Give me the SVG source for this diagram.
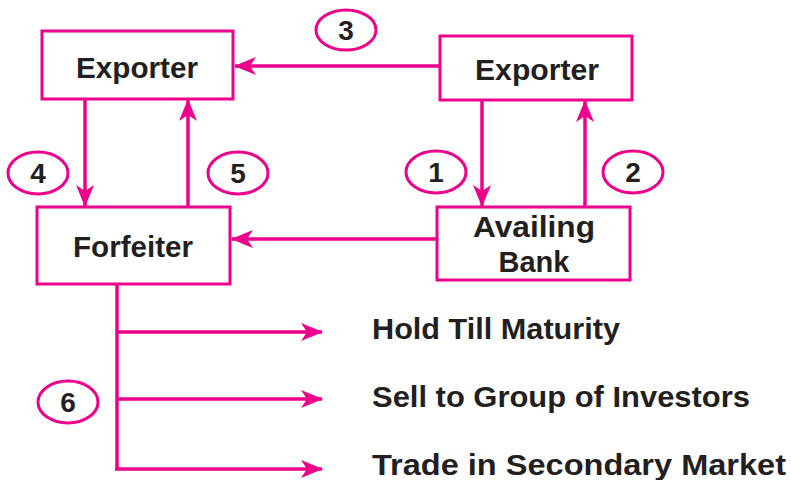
<svg xmlns="http://www.w3.org/2000/svg" width="791" height="480" viewBox="0 0 791 480">
<defs>
<marker id="ah" viewBox="0 0 22 18" refX="21" refY="9" markerWidth="22" markerHeight="18" markerUnits="userSpaceOnUse" orient="auto">
<path d="M0,0 L22,9 L0,18 L6,9 Z" fill="#EC008C"/>
</marker>
</defs>
<style>
.box{fill:#fff;stroke:#EC008C;stroke-width:3}
.ell{fill:#fff;stroke:#EC008C;stroke-width:3}
.ln{fill:none;stroke:#EC008C;stroke-width:3.5}
.arr{fill:none;stroke:#EC008C;stroke-width:3.5;marker-end:url(#ah)}
.t{font-family:"Liberation Sans",Arial,sans-serif;font-weight:bold;fill:#231F20;text-anchor:middle}
.lb{font-size:29px}
.num{font-size:28px}
.out{font-family:"Liberation Sans",Arial,sans-serif;font-weight:bold;fill:#231F20;font-size:29px}
</style>
<g id="connectors">
<path class="arr" d="M440,66 L235,66"/>
<path class="arr" d="M482,100 L482,206"/>
<path class="arr" d="M585,207 L585,101"/>
<path class="arr" d="M85,99 L85,206"/>
<path class="arr" d="M188,207 L188,100"/>
<path class="arr" d="M437,239 L232,239"/>
<path class="ln" d="M117,284 L117,469"/>
<path class="arr" d="M117,332 L322,332"/>
<path class="arr" d="M117,399 L322,399"/>
<path class="arr" d="M115,469 L322,469"/>
</g>
<g id="exporter-left">
<rect class="box" x="42" y="31" width="191" height="68"/>
<text class="t lb" x="137" y="78" textLength="122" lengthAdjust="spacingAndGlyphs">Exporter</text>
</g>
<g id="exporter-right">
<rect class="box" x="440" y="36" width="192" height="64"/>
<text class="t lb" x="537" y="80" textLength="124" lengthAdjust="spacingAndGlyphs">Exporter</text>
</g>
<g id="availing-bank">
<rect class="box" x="437" y="207" width="193" height="73"/>
<text class="t lb" x="534" y="237" textLength="122" lengthAdjust="spacingAndGlyphs">Availing</text>
<text class="t lb" x="534" y="272">Bank</text>
</g>
<g id="forfeiter">
<rect class="box" x="37" y="207" width="193" height="77"/>
<text class="t lb" x="133" y="257" textLength="120" lengthAdjust="spacingAndGlyphs">Forfeiter</text>
</g>
<g id="label-3"><ellipse class="ell" cx="346" cy="30" rx="30" ry="20"/><text class="t num" x="346" y="40">3</text></g>
<g id="label-1"><ellipse class="ell" cx="436" cy="172" rx="30" ry="21"/><text class="t num" x="436" y="182">1</text></g>
<g id="label-2"><ellipse class="ell" cx="633" cy="172" rx="30" ry="21"/><text class="t num" x="633" y="182">2</text></g>
<g id="label-4"><ellipse class="ell" cx="38" cy="173" rx="30" ry="21"/><text class="t num" x="38" y="183">4</text></g>
<g id="label-5"><ellipse class="ell" cx="238" cy="173" rx="30" ry="21"/><text class="t num" x="238" y="183">5</text></g>
<g id="label-6"><ellipse class="ell" cx="68" cy="402" rx="30" ry="21"/><text class="t num" x="68" y="412">6</text></g>
<g id="outcomes">
<text class="out" x="372" y="339" textLength="248" lengthAdjust="spacingAndGlyphs">Hold Till Maturity</text>
<text class="out" x="372" y="407" textLength="378" lengthAdjust="spacingAndGlyphs">Sell to Group of Investors</text>
<text class="out" x="372" y="475" textLength="414" lengthAdjust="spacingAndGlyphs">Trade in Secondary Market</text>
</g>
</svg>
